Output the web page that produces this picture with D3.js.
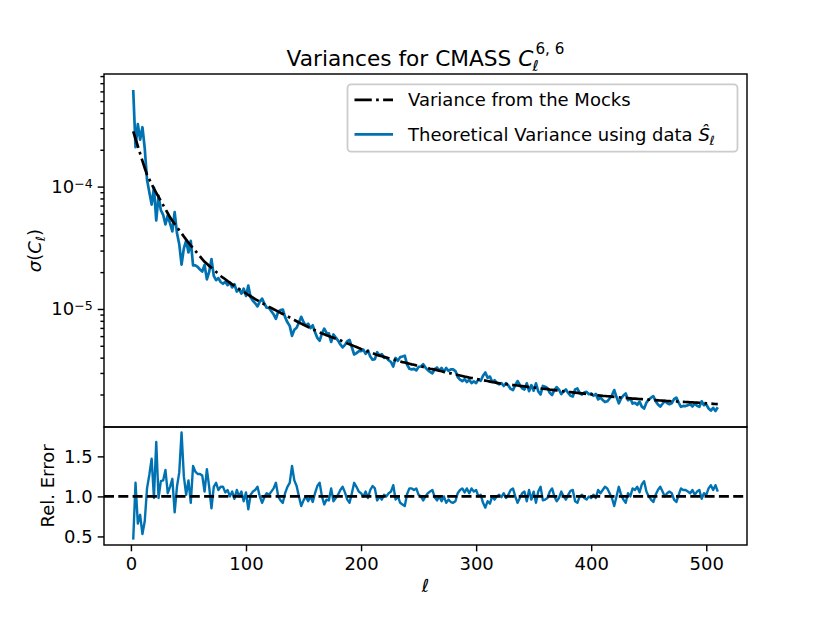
<!DOCTYPE html>
<html>
<head>
<meta charset="utf-8">
<script src="https://d3js.org/d3.v7.min.js"></script>
<style>
  body { margin: 0; background: #ffffff; }
  svg text { font-family: "DejaVu Sans", sans-serif; fill: #000; }
</style>
</head>
<body>
<script>

// multipoles (every second ell, 2..510)
var ell = d3.range(2, 511, 2);

// variance from the mocks, in units of 1e-6
var mockVar = [
  283,246,214,186,162,142,125,114.4,104.8,96.1,
  89.0,82.4,76.3,70.6,65.4,60.6,56.1,52.5,49.5,46.7,
  44.0,41.5,39.1,36.9,34.8,33.1,31.4,29.8,28.3,26.9,
  25.5,24.3,23.4,22.5,21.7,20.9,20.1,19.3,18.6,18.0,
  17.5,16.9,16.4,15.9,15.45,14.98,14.55,14.16,13.78,13.41,
  13.05,12.70,12.36,12.04,11.75,11.47,11.18,10.91,10.65,10.39,
  10.17,9.95,9.73,9.52,9.32,9.11,8.92,8.71,8.51,8.32,
  8.13,7.94,7.76,7.59,7.43,7.28,7.13,6.98,6.84,6.70,
  6.56,6.43,6.31,6.21,6.11,6.01,5.91,5.82,5.72,5.63,
  5.54,5.44,5.34,5.24,5.15,5.06,4.97,4.88,4.79,4.71,
  4.64,4.56,4.49,4.42,4.35,4.28,4.21,4.16,4.11,4.06,
  4.01,3.96,3.91,3.86,3.82,3.77,3.72,3.68,3.65,3.61,
  3.57,3.53,3.50,3.46,3.43,3.39,3.36,3.32,3.29,3.25,
  3.22,3.19,3.16,3.13,3.10,3.06,3.03,3.00,2.98,2.95,
  2.92,2.89,2.86,2.83,2.80,2.78,2.75,2.73,2.71,2.68,
  2.66,2.64,2.62,2.60,2.58,2.55,2.53,2.51,2.49,2.47,
  2.45,2.44,2.43,2.42,2.40,2.39,2.38,2.37,2.35,2.34,
  2.33,2.32,2.30,2.29,2.28,2.27,2.25,2.24,2.23,2.22,
  2.21,2.19,2.18,2.17,2.16,2.15,2.14,2.12,2.11,2.10,
  2.09,2.08,2.07,2.06,2.05,2.04,2.03,2.02,2.01,2.00,
  1.99,1.98,1.97,1.96,1.95,1.944,1.936,1.929,1.921,1.914,
  1.906,1.898,1.891,1.884,1.876,1.868,1.861,1.854,1.848,1.843,
  1.837,1.831,1.826,1.820,1.814,1.809,1.803,1.798,1.792,1.786,
  1.781,1.776,1.770,1.766,1.762,1.758,1.754,1.749,1.745,1.741,
  1.737,1.733,1.729,1.725,1.720,1.716,1.712,1.707,1.701,1.695,
  1.690,1.684,1.679,1.673,1.668
];

// relative error (mocks / theory)
var relErr = [
  0.46,1.17,0.66,0.77,0.53,0.69,1.10,1.27,1.47,0.98,
  1.68,0.98,1.19,1.20,1.33,1.04,1.12,1.22,0.80,1.12,
  1.30,1.80,1.25,1.02,1.20,0.92,1.38,1.31,1.28,1.28,
  1.26,1.06,1.34,1.12,0.85,1.12,1.17,1.08,1.12,1.12,
  1.05,1.08,1.00,1.06,0.97,1.08,1.00,1.06,0.94,1.05,
  0.84,1.02,1.06,1.08,1.12,1.00,0.92,0.99,1.04,1.02,
  1.06,1.10,1.17,1.00,0.95,0.92,1.04,1.12,1.17,1.38,
  1.20,1.13,1.00,0.88,0.95,1.00,0.94,1.00,0.93,1.04,
  1.13,1.17,1.00,0.90,0.96,0.95,1.10,0.94,0.98,1.02,
  1.08,1.12,1.05,0.96,0.92,1.04,1.17,1.12,1.06,1.04,
  1.00,1.06,0.98,1.08,1.13,1.10,0.95,1.00,0.96,1.02,
  1.00,1.04,1.06,1.14,0.96,1.00,0.92,0.90,0.88,1.03,
  1.10,1.10,1.08,1.10,1.02,1.00,0.95,1.00,1.04,1.06,
  1.08,0.99,0.95,1.00,0.94,1.00,0.92,0.96,0.93,0.92,
  0.94,1.04,1.08,1.10,1.05,1.10,1.04,1.10,1.06,1.08,
  1.00,1.02,0.92,0.86,0.94,0.91,1.00,0.96,1.00,1.02,
  0.99,1.04,0.98,1.02,1.08,1.10,1.00,0.92,0.98,1.04,
  1.06,0.94,1.08,0.96,1.06,0.92,1.06,1.12,0.95,0.96,
  0.98,1.06,1.10,1.00,0.94,0.98,1.06,1.00,0.96,1.02,
  1.07,1.08,0.94,0.92,1.00,1.02,0.98,0.96,1.00,0.98,
  1.02,0.98,1.08,1.04,1.08,1.12,1.10,1.04,0.98,0.88,
  1.00,1.12,1.02,0.96,0.92,1.04,1.00,1.10,1.08,1.12,
  1.05,1.15,1.19,1.06,1.00,0.96,0.93,1.02,1.08,1.12,
  1.06,1.00,1.04,1.06,1.04,0.96,0.93,1.02,1.10,1.08,
  1.08,1.06,1.04,1.08,1.02,1.06,1.08,0.97,1.04,1.02,
  1.10,1.14,1.08,1.14,1.06
];

var xTicks = [0, 100, 200, 300, 400, 500];
var relTicks = [0.5, 1.0, 1.5];
var logMajor = [1e-5, 1e-4];
var logMinor = [2e-6,3e-6,4e-6,5e-6,6e-6,7e-6,8e-6,9e-6,
                2e-5,3e-5,4e-5,5e-5,6e-5,7e-5,8e-5,9e-5,
                2e-4,3e-4,4e-4,5e-4,6e-4,7e-4,8e-4,9e-4];

var blue = "#0072b2";

// rows: theory variance = mocks / rel. error
var rows = ell.map(function(l, i) {
  return { l: l, mock: mockVar[i] * 1e-6, theo: mockVar[i] * 1e-6 / relErr[i], rel: relErr[i] };
});

var axL = 104, axR = 747, axT = 74, axM = 427, axB = 545;

var svg = d3.select("body").append("svg")
  .attr("width", 830)
  .attr("height", 623);

// matplotlib style 5% margins
var xExt = d3.extent(ell);
var xPad = 0.05 * (xExt[1] - xExt[0]);
var x = d3.scaleLinear().domain([xExt[0] - xPad, xExt[1] + xPad]).range([axL, axR]);

var allV = rows.map(function(d) { return d.mock; }).concat(rows.map(function(d) { return d.theo; }));
var lgLo = Math.log10(d3.min(allV)), lgHi = Math.log10(d3.max(allV));
var lgPad = 0.05 * (lgHi - lgLo);
var yTop = d3.scaleLog().domain([Math.pow(10, lgLo - lgPad), Math.pow(10, lgHi + lgPad)]).range([axM, axT]);

var rExt = d3.extent(relErr);
var rPad = 0.05 * (rExt[1] - rExt[0]);
var yBot = d3.scaleLinear().domain([rExt[0] - rPad, rExt[1] + rPad]).range([axB, axM]);

// ---- top panel lines
var theoLine = d3.line().x(function(d) { return x(d.l); }).y(function(d) { return yTop(d.theo); });
var mockLine = d3.line().x(function(d) { return x(d.l); }).y(function(d) { return yTop(d.mock); });

svg.append("path").datum(rows)
  .attr("fill", "none")
  .attr("stroke", blue)
  .attr("stroke-width", 2.7)
  .attr("stroke-linejoin", "round")
  .attr("d", theoLine);

svg.append("path").datum(rows)
  .attr("fill", "none")
  .attr("stroke", "#000")
  .attr("stroke-width", 2.7)
  .attr("stroke-dasharray", "17.3,4.3,2.7,4.3")
  .attr("d", mockLine);

// ---- bottom panel lines
var relLine = d3.line().x(function(d) { return x(d.l); }).y(function(d) { return yBot(d.rel); });

svg.append("path").datum(rows)
  .attr("fill", "none")
  .attr("stroke", blue)
  .attr("stroke-width", 2.4)
  .attr("stroke-linejoin", "round")
  .attr("d", relLine);

svg.append("line")
  .attr("x1", axL).attr("x2", axR)
  .attr("y1", yBot(1)).attr("y2", yBot(1))
  .attr("stroke", "#000")
  .attr("stroke-width", 2.7)
  .attr("stroke-dasharray", "10,4.3");

// ---- axes
function styleAxis(g) {
  g.select(".domain").remove();
  g.attr("font-family", "DejaVu Sans").attr("font-size", 18);
  g.selectAll(".tick line").attr("stroke", "#000").attr("stroke-width", 1.44);
}

var topMajor = svg.append("g")
  .attr("transform", "translate(" + axL + ",0)")
  .call(d3.axisLeft(yTop).tickValues(logMajor).tickSize(6.3).tickPadding(5).tickFormat(function() { return ""; }))
  .call(styleAxis);

topMajor.selectAll(".tick text").each(function(d) {
  var t = d3.select(this).text("10");
  t.append("tspan")
    .attr("dy", "-0.42em")
    .attr("font-size", "12.6px")
    .text("\u2212" + Math.round(-Math.log10(d)));
});

svg.append("g")
  .attr("transform", "translate(" + axL + ",0)")
  .call(d3.axisLeft(yTop).tickValues(logMinor.filter(function(v) {
      return v >= yTop.domain()[0] && v <= yTop.domain()[1];
    })).tickSize(3.6).tickFormat(function() { return ""; }))
  .call(styleAxis);

svg.append("g")
  .attr("transform", "translate(" + axL + ",0)")
  .call(d3.axisLeft(yBot).tickValues(relTicks).tickSize(6.3).tickPadding(5).tickFormat(d3.format(".1f")))
  .call(styleAxis);

svg.append("g")
  .attr("transform", "translate(0," + axB + ")")
  .call(d3.axisBottom(x).tickValues(xTicks).tickSize(6.3).tickPadding(6).tickFormat(d3.format("d")))
  .call(styleAxis);

// frames
svg.append("rect")
  .attr("x", axL).attr("y", axT).attr("width", axR - axL).attr("height", axM - axT)
  .attr("fill", "none").attr("stroke", "#000").attr("stroke-width", 1.44);
svg.append("rect")
  .attr("x", axL).attr("y", axM).attr("width", axR - axL).attr("height", axB - axM)
  .attr("fill", "none").attr("stroke", "#000").attr("stroke-width", 1.44);

// ---- title
var tg = svg.append("g");
var tMain = tg.append("text").attr("y", 65.5).attr("font-size", "21.7px");
tMain.append("tspan").text("Variances for CMASS ");
tMain.append("tspan").attr("font-style", "italic").text("C");
var wMain = tMain.node().getComputedTextLength();
tg.append("text")
  .attr("x", wMain - 1).attr("y", 71)
  .attr("font-size", "15.2px").attr("font-style", "italic")
  .text("\u2113");
var tSup = tg.append("text")
  .attr("x", wMain + 2).attr("y", 54)
  .attr("font-size", "15.2px")
  .text("6, 6");
var wAll = wMain + 2 + tSup.node().getComputedTextLength();
tg.attr("transform", "translate(" + ((axL + axR) / 2 - wAll / 2) + ",0)");

// ---- axis labels
var yl = svg.append("text")
  .attr("transform", "translate(41," + ((axT + axM) / 2) + ") rotate(-90)")
  .attr("text-anchor", "middle")
  .attr("font-size", "18px");
yl.append("tspan").attr("font-style", "italic").text("\u03c3");
yl.append("tspan").text("(");
yl.append("tspan").attr("font-style", "italic").text("C");
yl.append("tspan").attr("font-style", "italic").attr("font-size", "12.6px").attr("dy", 4).text("\u2113");
yl.append("tspan").attr("dy", -4).text(")");

svg.append("text")
  .attr("transform", "translate(54," + ((axM + axB) / 2) + ") rotate(-90)")
  .attr("text-anchor", "middle")
  .attr("font-size", "18px")
  .text("Rel. Error");

svg.append("text")
  .attr("x", (axL + axR) / 2).attr("y", 592)
  .attr("text-anchor", "middle")
  .attr("font-size", "18px")
  .attr("font-style", "italic")
  .text("\u2113");

// ---- legend
var lg = svg.append("g");
lg.append("rect")
  .attr("x", 347.5).attr("y", 84.3).attr("width", 390).attr("height", 67.4)
  .attr("rx", 3.6).attr("ry", 3.6)
  .attr("fill", "#fff").attr("fill-opacity", 0.8)
  .attr("stroke", "#cccccc").attr("stroke-width", 1.8);

var legendItems = [
  { y: 99.8, stroke: "#000", dash: "17.3,4.3,2.7,4.3" },
  { y: 134.4, stroke: blue, dash: null }
];
lg.selectAll("line.handle").data(legendItems).enter().append("line")
  .attr("class", "handle")
  .attr("x1", 354.5).attr("x2", 393)
  .attr("y1", function(d) { return d.y; }).attr("y2", function(d) { return d.y; })
  .attr("stroke", function(d) { return d.stroke; })
  .attr("stroke-width", 2.7)
  .attr("stroke-dasharray", function(d) { return d.dash; });

lg.append("text")
  .attr("x", 408).attr("y", legendItems[0].y + 6.5)
  .attr("font-size", "18px")
  .text("Variance from the Mocks");

var l2 = lg.append("text")
  .attr("x", 408).attr("y", legendItems[1].y + 6.5)
  .attr("font-size", "18px");
l2.append("tspan").text("Theoretical Variance using data ");
l2.append("tspan").attr("font-style", "italic").text("\u015c");
l2.append("tspan").attr("font-style", "italic").attr("font-size", "12.6px").attr("dy", 4).text("\u2113");

</script>
</body>
</html>
